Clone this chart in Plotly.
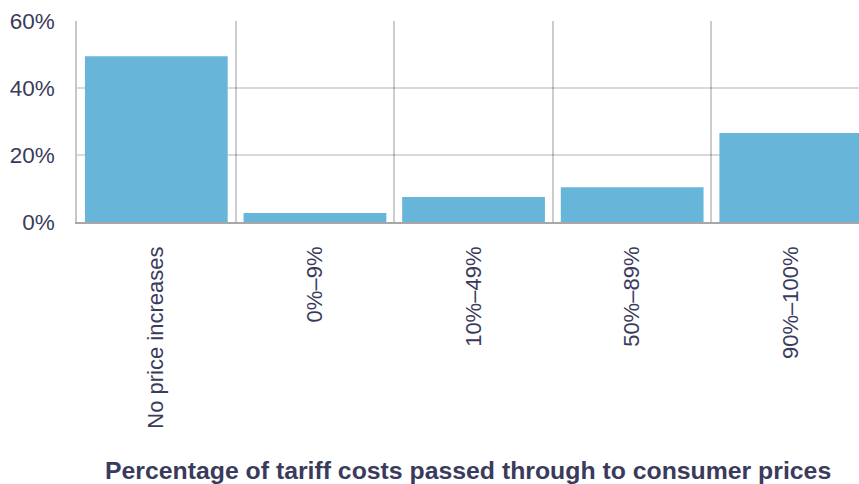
import plotly.graph_objects as go

categories = ["No price increases", "0%–9%", "10%–49%", "50%–89%", "90%–100%"]
shares = [49.5, 2.7, 7.5, 10.4, 26.6]
y_ticks = [0, 20, 40, 60]
y_tick_labels = ["0%", "20%", "40%", "60%"]
x_title = "Percentage of tariff costs passed through to consumer prices"

TEXT = "#3a3b5c"
FONT = "Liberation Sans, Arial, sans-serif"

fig = go.Figure(
    go.Bar(x=categories, y=shares, marker=dict(color="#67b6da", line=dict(width=0)))
)

fig.update_layout(
    width=859, height=484,
    margin=dict(l=77, r=0, t=21, b=262),
    paper_bgcolor="white", plot_bgcolor="white",
    bargap=0.1, showlegend=False,
    font=dict(family=FONT, size=22, color=TEXT),
)

fig.update_xaxes(
    type="category", range=[-0.5, 4.43],
    tickson="boundaries", showgrid=True, gridcolor="rgba(0,0,0,0.2)", gridwidth=1.5,
    tickangle=-90, ticks="", ticklabelstandoff=14,
    showline=True, linecolor="rgba(60,60,60,0.45)", linewidth=1.5,
    layer="above traces",
    tickfont=dict(family=FONT, size=22, color=TEXT),
)
fig.update_yaxes(
    range=[0, 60], tickvals=y_ticks, ticktext=y_tick_labels,
    showgrid=True, gridcolor="rgba(0,0,0,0.15)", gridwidth=1.5,
    zeroline=False, showline=True, linecolor="rgba(0,0,0,0.22)", linewidth=1.5,
    ticks="", ticklabelstandoff=16,
    tickfont=dict(family=FONT, size=22.5, color=TEXT),
)

fig.add_annotation(
    text=x_title, xref="paper", yref="paper", x=0.5, y=-1.234,
    xanchor="center", yanchor="middle", showarrow=False,
    font=dict(family=FONT, size=24.8, color=TEXT, weight="bold"),
)

fig.write_html("out.html")
